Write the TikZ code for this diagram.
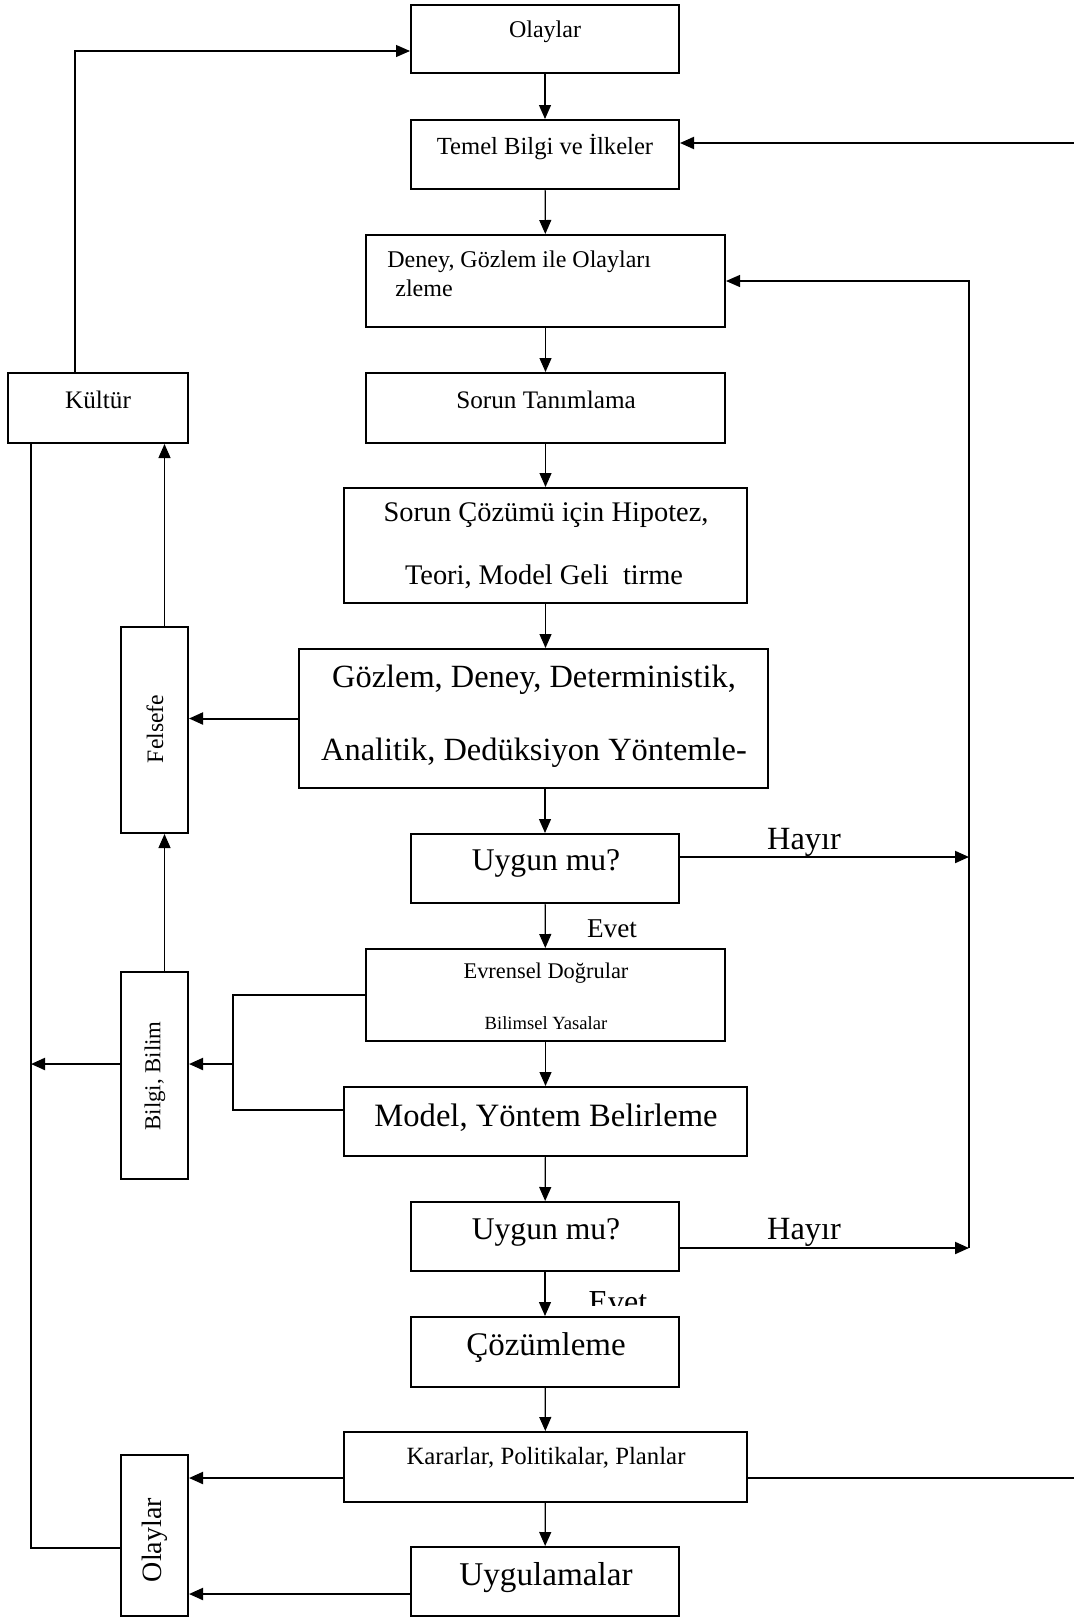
\documentclass[tikz,border=0pt]{standalone}
\usepackage{fontspec}
\setmainfont{Liberation Serif}
\usetikzlibrary{arrows.meta}
\newcommand{\fsz}[1]{\fontsize{#1}{#1}\selectfont}

\begin{document}
\begin{tikzpicture}[x=0.5pt, y=-0.5pt,
  box/.style={draw, line width=1pt, fill=white, inner sep=0pt},
  lbl/.style={inner sep=0pt},
  arr/.style={-{Triangle[length=7pt,width=6pt]}, line width=0.6pt},
  thickarr/.style={-{Triangle[length=7pt,width=6pt]}, line width=1pt}]
\useasboundingbox (0,0) rectangle (1074,1617); % page

% Evet (2) sits under the box below it
\begin{scope}
\clip (560,1280) rectangle (680,1305);
\node[lbl] (evet2) at (618,1302) {\fsz{16}Evet}; % label
\end{scope}

% main column
\node[box, minimum width=134pt, minimum height=34pt] (olay) at (545,39) {}; % Olaylar
\node[box, minimum width=134pt, minimum height=34.5pt] (temel) at (545,154.5) {}; % Temel Bilgi
\node[box, minimum width=179.5pt, minimum height=46pt] (deney) at (545.5,281) {}; % Deney, Gozlem
\node[box, minimum width=179.5pt, minimum height=35pt] (sorun) at (545.5,408) {}; % Sorun
\node[box, minimum width=201.5pt, minimum height=57.5pt] (hipo) at (545.5,545.5) {}; % Hipotez
\node[box, minimum width=234.5pt, minimum height=69.5pt] (gozlem) at (533.5,718.5) {}; % Yontemler
\node[box, minimum width=134pt, minimum height=34.5pt] (uygun1) at (545,868.5) {}; % Uygun mu (1)
\node[box, minimum width=179.5pt, minimum height=46pt] (evrensel) at (545.5,995) {}; % Evrensel
\node[box, minimum width=201.5pt, minimum height=34.5pt] (model) at (545.5,1121.5) {}; % Model
\node[box, minimum width=134pt, minimum height=34.5pt] (uygun2) at (545,1236.5) {}; % Uygun mu (2)
\node[box, minimum width=134pt, minimum height=35pt] (coz) at (545,1352) {}; % Cozumleme
\node[box, minimum width=201.5pt, minimum height=35pt] (karar) at (545.5,1467) {}; % Kararlar
\node[box, minimum width=134pt, minimum height=34.5pt] (uygula) at (545,1581.5) {}; % Uygulamalar

% left column
\node[box, minimum width=90pt, minimum height=35pt] (kultur) at (98,408) {}; % Kultur
\node[box, minimum width=33.5pt, minimum height=103pt] (felsefe) at (154.5,730) {}; % Felsefe
\node[box, minimum width=33.5pt, minimum height=103.5pt] (bilgi) at (154.5,1075.5) {}; % Bilgi, Bilim
\node[box, minimum width=33.5pt, minimum height=80.5pt] (olayyan) at (154.5,1535.5) {}; % Olaylar (side)

% texts
\node[lbl] at (545,32) {\fsz{12}Olaylar}; % label
\node[lbl] at (545,147) {\fsz{12.3}Temel Bilgi ve İlkeler}; % label
\node[lbl, anchor=west] at (387,262) {\fsz{12}Deney, Gözlem ile Olayları}; % label
\node[lbl, anchor=west] at (395,288) {\fsz{12}zleme}; % label
\node[lbl] at (546,400) {\fsz{12.6}Sorun Tanımlama}; % label
\node[lbl] at (98,400) {\fsz{12.6}Kültür}; % label
\node[lbl] at (546,515) {\fsz{14.2}Sorun Çözümü için Hipotez,}; % label
\node[lbl] at (544,577) {\fsz{14.2}Teori, Model Geli\ \ tirme}; % label
\node[lbl] at (534,680) {\fsz{16.2}Gözlem, Deney, Deterministik,}; % label
\node[lbl] at (534,753) {\fsz{16.2}Analitik, Dedüksiyon Yöntemle-}; % label
\node[lbl] at (546,863) {\fsz{15.8}Uygun mu?}; % label
\node[lbl] (hayir1) at (804,842) {\fsz{16.2}Hayır}; % label
\node[lbl] (evet1) at (612,929) {\fsz{13.6}Evet}; % label
\node[lbl] at (546,973) {\fsz{11.2}Evrensel Doğrular}; % label
\node[lbl] at (546,1023) {\fsz{9.3}Bilimsel Yasalar}; % label
\node[lbl] at (546,1118) {\fsz{16.3}Model, Yöntem Belirleme}; % label
\node[lbl] at (546,1232) {\fsz{15.8}Uygun mu?}; % label
\node[lbl] (hayir2) at (804,1232) {\fsz{16.2}Hayır}; % label
\node[lbl] at (546,1348) {\fsz{16.5}Çözümleme}; % label
\node[lbl] at (546,1458) {\fsz{12.4}Kararlar, Politikalar, Planlar}; % label
\node[lbl] at (546,1578) {\fsz{16.6}Uygulamalar}; % label
\node[lbl, rotate=90] at (155,729) {\fsz{11.8}Felsefe}; % label
\node[lbl, rotate=90] at (155,1076) {\fsz{11.4}Bilgi, Bilim}; % label
\node[lbl, rotate=90] at (155,1540) {\fsz{14}Olaylar}; % label

% turning points
\coordinate (sag) at (969,1248); % right return line
\coordinate (kenar) at (1074,143); % right page edge
\coordinate (ayr) at (233,1064); % split
\coordinate (sol) at (31,1064); % left line

% down the main column
\draw[arr] (olay) -- (temel); % 1
\draw[arr] (temel) -- (deney); % 2
\draw[arr] (deney) -- (sorun); % 3
\draw[arr] (sorun) -- (hipo); % 4
\draw[arr] (hipo.south) -- (hipo.south |- gozlem.north); % 5
\draw[arr] (uygun1.north |- gozlem.south) -- (uygun1.north); % 6
\draw[arr] (uygun1) -- (evrensel); % 7
\draw[arr] (evrensel) -- (model); % 8
\draw[arr] (model) -- (uygun2); % 9
\draw[arr] (uygun2) -- (coz); % 10
\draw[arr] (coz) -- (karar); % 11
\draw[arr] (karar) -- (uygula); % 12

% Hayir loops
\draw[thickarr] (uygun1.east |- 0,857) -- (sag |- 0,857); % Hayir (1)
\draw[thickarr] (uygun2.east |- sag) -- (sag); % Hayir (2)
\draw[arr] (sag) -- (sag |- deney.east) -- (deney.east); % back to Deney
\draw[thickarr] (kenar) -- (temel.east |- kenar); % back to Temel Bilgi
\draw[line width=0.8pt] (karar.east |- 0,1478) -- (1074,1478); % out to the right

% left side
\draw[thickarr] (gozlem.west) -- (felsefe.east |- gozlem.west); % to Felsefe
\draw[arr] ([xshift=5pt]felsefe.north) -- ([xshift=5pt]felsefe.north |- kultur.south); % to Kultur
\draw[arr] ([xshift=5pt]bilgi.north) -- ([xshift=5pt]bilgi.north |- felsefe.south); % to Felsefe
\draw[line width=0.8pt] (evrensel.west) -| (233,1110) -- (model.west |- 0,1110); % bracket
\draw[thickarr] (ayr) -- (bilgi.east |- ayr); % to Bilgi
\draw[thickarr] (bilgi.west |- ayr) -- (sol); % to left line
\draw[arr] (75,373) |- (olay.west |- 0,51); % Kultur to Olaylar
\draw[line width=0.6pt] (31,443) |- (olayyan.west |- 0,1548); % left line
\draw[thickarr] (karar.west |- 0,1478) -- (olayyan.east |- 0,1478); % to Olaylar (side)
\draw[thickarr] (uygula.west |- 0,1594) -- (olayyan.east |- 0,1594); % to Olaylar (side)

\end{tikzpicture}
\end{document}
